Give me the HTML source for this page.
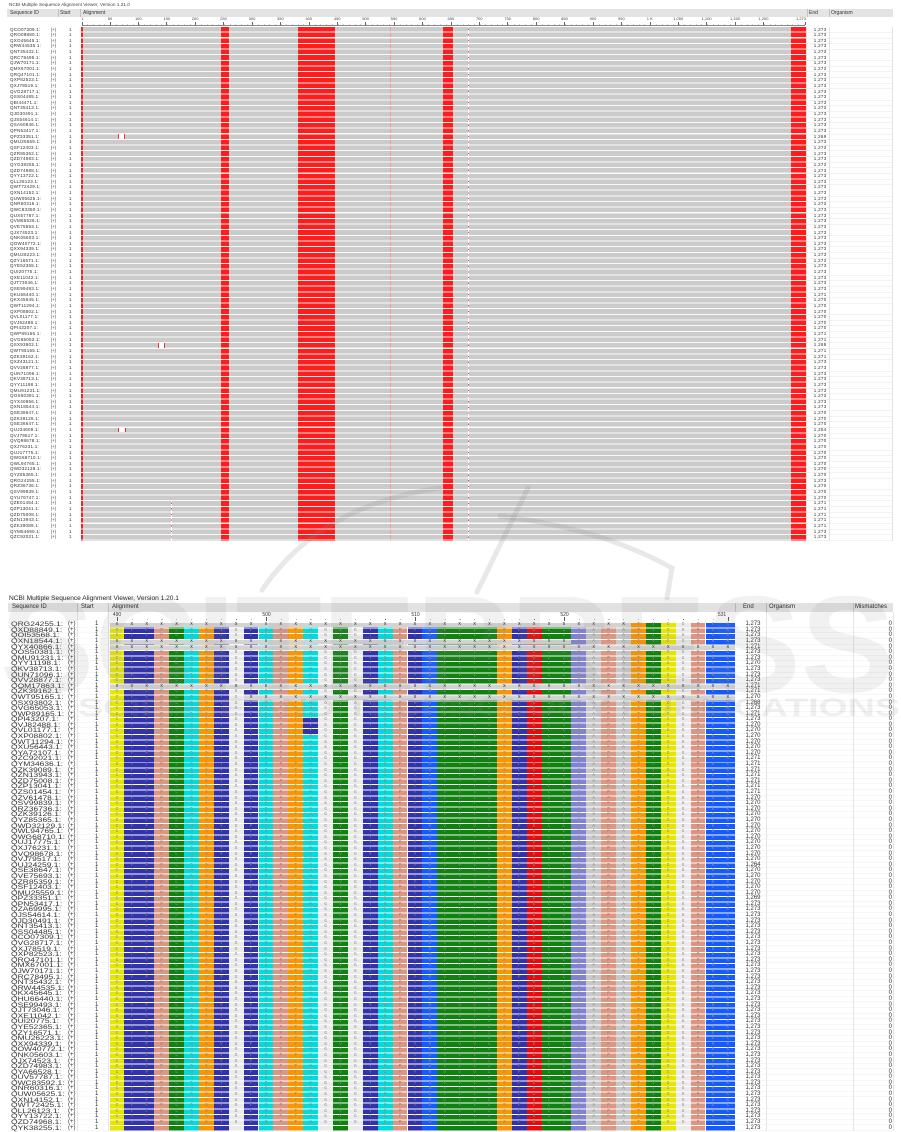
<!DOCTYPE html>
<html><head><meta charset="utf-8"><style>
*{margin:0;padding:0}
body{width:901px;height:1131px;position:relative;overflow:hidden;background:#fff;font-family:"Liberation Sans",Arial,sans-serif;color:#333}
.a{position:absolute}
.hb{position:absolute;background:#e4e4e4}
.sep{position:absolute;width:1px;background:#c2c2c2}
.rl{position:absolute;width:24px;text-align:center;font-size:4px;line-height:4px;top:17.3px;color:#444}
.mt{position:absolute;width:.6px;height:3.2px;top:21.8px;background:#666}
.tt{position:absolute;font-size:4.5px;line-height:5.645px;top:26.5px;height:514px;overflow:hidden;white-space:pre;color:#333}
.red{position:absolute;top:27px;height:513.7px;background:#ff1c1c}
.bt{position:absolute;font-size:6px;line-height:5.59px;top:622.2px;white-space:pre;color:#333}
.c{position:absolute;top:622.7px;height:508.7px}
.x{position:absolute;height:4.6px;background:#d3d3d3}
.L{position:absolute;left:115.6px;top:622.2px;font-family:"Liberation Mono",monospace;font-size:4.5px;letter-spacing:12.2px;line-height:5.59px;white-space:pre;color:#8a8a8a}
.L b{color:#222;font-weight:normal}
.bl{position:absolute;font-size:5px;line-height:5px;top:612.6px;width:24px;text-align:center;color:#333}
.bm{position:absolute;width:.7px;height:4.6px;top:616.6px;background:#555}
</style></head><body>

<!-- ================= TOP SECTION ================= -->
<div class="a" style="left:9px;top:2.7px;font-size:4.7px;line-height:4.7px;color:#444">NCBI Multiple Sequence Alignment Viewer, Version 1.21.0</div>
<div class="hb" style="left:7px;top:9.3px;width:886px;height:8px"></div>
<div class="a" style="left:10px;top:9.3px;font-size:5px;line-height:8px">Sequence ID</div>
<div class="a" style="left:60px;top:9.3px;font-size:5px;line-height:8px">Start</div>
<div class="a" style="left:83px;top:9.3px;font-size:5px;line-height:8px">Alignment</div>
<div class="a" style="left:809px;top:9.3px;font-size:5px;line-height:8px">End</div>
<div class="a" style="left:831px;top:9.3px;font-size:5px;line-height:8px">Organism</div>
<div class="sep" style="left:57.5px;top:9.3px;height:8px"></div>
<div class="sep" style="left:80px;top:9.3px;height:8px"></div>
<div class="sep" style="left:806.5px;top:9.3px;height:8px"></div>
<div class="sep" style="left:829px;top:9.3px;height:8px"></div>

<!-- ruler -->
<div class="rl" style="left:70.3px">1</div>
<div class="rl" style="left:98px">50</div>
<div class="rl" style="left:126.3px">100</div>
<div class="rl" style="left:154.7px">150</div>
<div class="rl" style="left:183.1px">200</div>
<div class="rl" style="left:211.5px">250</div>
<div class="rl" style="left:240px">300</div>
<div class="rl" style="left:268.4px">350</div>
<div class="rl" style="left:296.8px">400</div>
<div class="rl" style="left:325.2px">450</div>
<div class="rl" style="left:353.6px">500</div>
<div class="rl" style="left:382px">550</div>
<div class="rl" style="left:410.5px">600</div>
<div class="rl" style="left:438.9px">650</div>
<div class="rl" style="left:467.3px">700</div>
<div class="rl" style="left:495.7px">750</div>
<div class="rl" style="left:524.1px">800</div>
<div class="rl" style="left:552.5px">850</div>
<div class="rl" style="left:581px">900</div>
<div class="rl" style="left:609.4px">950</div>
<div class="rl" style="left:637.8px">1 K</div>
<div class="rl" style="left:666.2px">1,050</div>
<div class="rl" style="left:694.6px">1,100</div>
<div class="rl" style="left:723px">1,150</div>
<div class="rl" style="left:751.5px">1,200</div>
<div class="rl" style="left:782px;text-align:right">1,273</div>
<div class="a" style="left:81.5px;top:24.8px;width:723.5px;height:.6px;background:#888"></div>
<div class="a" style="left:81.7px;top:23.6px;width:723px;height:1.2px;background:repeating-linear-gradient(90deg,#999 0 .5px,transparent .5px 5.684px)"></div>
<div class="mt" style="left:82px"></div><div class="mt" style="left:109.7px"></div><div class="mt" style="left:138px"></div><div class="mt" style="left:166.4px"></div><div class="mt" style="left:194.8px"></div><div class="mt" style="left:223.2px"></div><div class="mt" style="left:251.7px"></div><div class="mt" style="left:280.1px"></div><div class="mt" style="left:308.5px"></div><div class="mt" style="left:336.9px"></div><div class="mt" style="left:365.3px"></div><div class="mt" style="left:393.7px"></div><div class="mt" style="left:422.2px"></div><div class="mt" style="left:450.6px"></div><div class="mt" style="left:479px"></div><div class="mt" style="left:507.4px"></div><div class="mt" style="left:535.8px"></div><div class="mt" style="left:564.2px"></div><div class="mt" style="left:592.7px"></div><div class="mt" style="left:621.1px"></div><div class="mt" style="left:649.5px"></div><div class="mt" style="left:677.9px"></div><div class="mt" style="left:706.3px"></div><div class="mt" style="left:734.7px"></div><div class="mt" style="left:763.2px"></div><div class="mt" style="left:804.6px"></div>

<!-- top alignment -->
<div class="a" style="left:81px;top:27px;width:725px;height:513.7px;background:#cbcbcb"></div>
<div class="red" style="left:81.3px;width:1.9px"></div>
<div class="red" style="left:220.7px;width:8.3px"></div>
<div class="red" style="left:298.3px;width:36.4px"></div>
<div class="red" style="left:443.3px;width:9.4px"></div>
<div class="red" style="left:790.7px;width:15.3px"></div>
<div class="a" style="left:390.4px;top:27px;width:.8px;height:513.7px;background:#f29a9a"></div>
<div class="a" style="left:156.8px;top:27px;width:.8px;height:513.7px;background:repeating-linear-gradient(180deg,transparent 0 1.6px,#f0b8b8 1.6px 2.8px,transparent 2.8px 5.645px)"></div>
<div class="a" style="left:467.8px;top:27px;width:1.3px;height:513.7px;background:repeating-linear-gradient(180deg,#fff 0 1.6px,#e84a4a 1.6px 2.8px,#fff 2.8px 5.645px)"></div>
<div class="a" style="left:170.8px;top:501.2px;width:.9px;height:39.5px;background:repeating-linear-gradient(180deg,#fff 0 1.6px,#e84a4a 1.6px 2.8px,#fff 2.8px 5.645px)"></div>
<div class="a" style="left:81px;top:27px;width:725px;height:513.7px;background:repeating-linear-gradient(180deg,transparent 0 4.6px,rgba(255,255,255,.9) 4.6px 5.645px)"></div>
<div class="a" style="left:118px;top:134.3px;width:7px;height:4.6px;background:#fff;border-left:1px solid #e33;border-right:1px solid #e33;box-sizing:border-box"></div>
<div class="a" style="left:158px;top:343.1px;width:7px;height:4.6px;background:#fff;border-left:1px solid #e33;border-right:1px solid #e33;box-sizing:border-box"></div>
<div class="a" style="left:118px;top:427.8px;width:8px;height:4.6px;background:#fff;border-left:1px solid #e33;border-right:1px solid #e33;box-sizing:border-box"></div>

<!-- top end / organism grid -->
<div class="a" style="left:806px;top:27px;width:87px;height:513.7px;border-left:1px solid #e2e2e2;border-right:1px solid #e2e2e2;box-sizing:border-box;background:repeating-linear-gradient(180deg,transparent 0 5.2px,#e6e6e6 5.2px 5.645px)"></div>
<div class="a" style="left:829px;top:27px;width:1px;height:513.7px;background:#e2e2e2"></div>

<div class="tt" style="left:10px;letter-spacing:.25px">QCO07309.1:
QRO08880.1:
QXO45645.1:
QRW44535.1:
QNT35432.1:
QRC78495.1:
QJW70171.1:
QMX67001.1:
QRQ47101.1:
QXP82523.1:
QXJ78519.1:
QVG28717.1:
QSS04485.1:
QBI44471.1:
QNT35413.1:
QJD30491.1:
QJS54614.1:
QSA60846.1:
QPN53417.1:
QPZ33351.1:
QMU25559.1:
QSF12403.1:
QZR85362.1:
QZD74983.1:
QYG38255.1:
QZD74988.1:
QYY13722.1:
QLL26123.1:
QWT72429.1:
QXN14152.1:
QUW05625.1:
QNR60316.1:
QWC83350.1:
QUX57787.1:
QVM65528.1:
QVE75693.1:
QJX74523.1:
QNK05603.1:
QOW40772.1:
QXX94339.1:
QMU26223.1:
QZY16571.1:
QYE52365.1:
QUI20775.1:
QXE11042.1:
QJT73046.1:
QSE99493.1:
QKU66440.1:
QKX45645.1:
QWT11294.1:
QXP08802.1:
QVL01177.1:
QVJ62488.1:
QPI43207.1:
QWP89165.1:
QVG65053.1:
QSX93802.1:
QWT95165.1:
QZK39162.1:
QXZ43121.1:
QVV28877.1:
QUN71096.1:
QKV38713.1:
QYY11198.1:
QMU91231.1:
QOS50381.1:
QYX40866.1:
QXN18544.1:
QSE38647.1:
QZK39126.1:
QSE36647.1:
QUJ34609.1:
QVJ79517.1:
QVQ98678.1:
QXJ76231.1:
QUJ17775.1:
QWG68710.1:
QWL94765.1:
QWD32129.1:
QYZ85365.1:
QRG24255.1:
QRZ36736.1:
QSV99839.1:
QYU76747.1:
QZE01454.1:
QZP13041.1:
QZD75008.1:
QZN13943.1:
QZK39089.1:
QYM54690.1:
QZC92021.1:</div>
<div class="tt" style="left:50.7px;font-size:4.3px">(+)
(+)
(+)
(+)
(+)
(+)
(+)
(+)
(+)
(+)
(+)
(+)
(+)
(+)
(+)
(+)
(+)
(+)
(+)
(+)
(+)
(+)
(+)
(+)
(+)
(+)
(+)
(+)
(+)
(+)
(+)
(+)
(+)
(+)
(+)
(+)
(+)
(+)
(+)
(+)
(+)
(+)
(+)
(+)
(+)
(+)
(+)
(+)
(+)
(+)
(+)
(+)
(+)
(+)
(+)
(+)
(+)
(+)
(+)
(+)
(+)
(+)
(+)
(+)
(+)
(+)
(+)
(+)
(+)
(+)
(+)
(+)
(+)
(+)
(+)
(+)
(+)
(+)
(+)
(+)
(+)
(+)
(+)
(+)
(+)
(+)
(+)
(+)
(+)
(+)
(+)</div>
<div class="tt" style="left:69px">1
1
1
1
1
1
1
1
1
1
1
1
1
1
1
1
1
1
1
1
1
1
1
1
1
1
1
1
1
1
1
1
1
1
1
1
1
1
1
1
1
1
1
1
1
1
1
1
1
1
1
1
1
1
1
1
1
1
1
1
1
1
1
1
1
1
1
1
1
1
1
1
1
1
1
1
1
1
1
1
1
1
1
1
1
1
1
1
1
1
1</div>
<div class="tt" style="left:800px;width:26.5px;text-align:right;letter-spacing:.3px">1,273
1,273
1,273
1,273
1,273
1,273
1,273
1,273
1,273
1,273
1,273
1,273
1,273
1,273
1,273
1,273
1,273
1,273
1,273
1,269
1,273
1,273
1,273
1,273
1,273
1,273
1,273
1,273
1,273
1,273
1,273
1,273
1,273
1,273
1,273
1,273
1,273
1,273
1,273
1,273
1,273
1,273
1,273
1,273
1,273
1,273
1,273
1,271
1,270
1,270
1,270
1,270
1,270
1,270
1,271
1,271
1,268
1,271
1,271
1,273
1,273
1,273
1,273
1,273
1,273
1,273
1,273
1,273
1,270
1,270
1,270
1,264
1,270
1,270
1,270
1,270
1,270
1,270
1,270
1,270
1,273
1,270
1,270
1,270
1,271
1,271
1,271
1,271
1,271
1,273
1,273</div>

<!-- ================= BOTTOM SECTION ================= -->
<div class="a" style="left:9px;top:595.8px;font-size:6.6px;line-height:6.6px;color:#222">NCBI Multiple Sequence Alignment Viewer, Version 1.20.1</div>
<div class="hb" style="left:8px;top:603.3px;width:885px;height:8.4px;background:#e2e2e2"></div>
<div class="a" style="left:12px;top:603.3px;font-size:6px;line-height:8.4px;color:#222">Sequence ID</div>
<div class="a" style="left:81px;top:603.3px;font-size:6px;line-height:8.4px;color:#222">Start</div>
<div class="a" style="left:112px;top:603.3px;font-size:6px;line-height:8.4px;color:#222">Alignment</div>
<div class="a" style="left:743px;top:603.3px;font-size:6px;line-height:8.4px;color:#222">End</div>
<div class="a" style="left:769px;top:603.3px;font-size:6px;line-height:8.4px;color:#222">Organism</div>
<div class="a" style="left:855px;top:603.3px;font-size:6px;line-height:8.4px;color:#222">Mismatches</div>
<div class="sep" style="left:77.3px;top:603.3px;height:8.4px;background:#bdbdbd"></div>
<div class="sep" style="left:108.3px;top:603.3px;height:8.4px;background:#bdbdbd"></div>
<div class="sep" style="left:735px;top:603.3px;height:8.4px;background:#bdbdbd"></div>
<div class="sep" style="left:766px;top:603.3px;height:8.4px;background:#bdbdbd"></div>
<div class="sep" style="left:853px;top:603.3px;height:8.4px;background:#bdbdbd"></div>

<!-- bottom ruler -->
<div class="bl" style="left:105px">490</div>
<div class="bl" style="left:254.5px">500</div>
<div class="bl" style="left:403.5px">510</div>
<div class="bl" style="left:552.5px">520</div>
<div class="bl" style="left:710px">531</div>
<div class="bm" style="left:116.7px"></div>
<div class="bm" style="left:266.2px"></div>
<div class="bm" style="left:415.2px"></div>
<div class="bm" style="left:564.2px"></div>
<div class="bm" style="left:727.5px"></div>
<div class="a" style="left:116.7px;top:619.3px;width:620px;height:1.2px;background:repeating-linear-gradient(90deg,#666 0 .6px,transparent .6px 14.9px)"></div>

<!-- column backgrounds -->
<div class="c" style="left:109.5px;width:14.9px;background:#e6e600"></div>
<div class="c" style="left:124.4px;width:29.8px;background:#3232aa"></div>
<div class="c" style="left:154.2px;width:14.9px;background:#dc9682"></div>
<div class="c" style="left:169.1px;width:14.9px;background:#0f820f"></div>
<div class="c" style="left:184px;width:14.9px;background:#00dcdc"></div>
<div class="c" style="left:198.9px;width:14.9px;background:#fa9600"></div>
<div class="c" style="left:213.8px;width:14.9px;background:#3232aa"></div>
<div class="c" style="left:228.7px;width:14.9px;background:#ebebeb"></div>
<div class="c" style="left:243.6px;width:14.9px;background:#3232aa"></div>
<div class="c" style="left:258.5px;width:14.9px;background:#00dcdc"></div>
<div class="c" style="left:273.4px;width:14.9px;background:#dc9682"></div>
<div class="c" style="left:288.3px;width:14.9px;background:#fa9600"></div>
<div class="c" style="left:303.2px;width:14.9px;background:#00dcdc"></div>
<div class="c" style="left:318.1px;width:14.9px;background:#ebebeb"></div>
<div class="c" style="left:333px;width:14.9px;background:#0f820f"></div>
<div class="c" style="left:347.9px;width:14.9px;background:#ebebeb"></div>
<div class="c" style="left:362.8px;width:14.9px;background:#3232aa"></div>
<div class="c" style="left:377.7px;width:14.9px;background:#00dcdc"></div>
<div class="c" style="left:392.6px;width:14.9px;background:#dc9682"></div>
<div class="c" style="left:407.5px;width:14.9px;background:#3232aa"></div>
<div class="c" style="left:422.4px;width:14.9px;background:#145aff"></div>
<div class="c" style="left:437.3px;width:59.6px;background:#0f820f"></div>
<div class="c" style="left:496.9px;width:14.9px;background:#fa9600"></div>
<div class="c" style="left:511.8px;width:14.9px;background:#3232aa"></div>
<div class="c" style="left:526.7px;width:14.9px;background:#e60a0a"></div>
<div class="c" style="left:541.6px;width:29.8px;background:#0f820f"></div>
<div class="c" style="left:571.4px;width:14.9px;background:#8282d2"></div>
<div class="c" style="left:586.3px;width:14.9px;background:#c8c8c8"></div>
<div class="c" style="left:601.2px;width:14.9px;background:#dc9682"></div>
<div class="c" style="left:616.1px;width:14.9px;background:#c8c8c8"></div>
<div class="c" style="left:631px;width:14.9px;background:#fa9600"></div>
<div class="c" style="left:645.9px;width:14.9px;background:#0f820f"></div>
<div class="c" style="left:660.8px;width:14.9px;background:#e6e600"></div>
<div class="c" style="left:675.7px;width:14.9px;background:#ebebeb"></div>
<div class="c" style="left:690.6px;width:14.9px;background:#dc9682"></div>
<div class="c" style="left:705.5px;width:29.8px;background:#145aff"></div>

<!-- variant overlays -->
<div class="x" style="left:109.5px;top:622.7px;width:521.5px"></div>
<div class="x" style="left:109.5px;top:639.47px;width:461.9px"></div>
<div class="x" style="left:109.5px;top:645.06px;width:625.8px"></div>
<div class="x" style="left:109.5px;top:684.19px;width:625.8px"></div>
<div class="x" style="left:243.6px;top:695.37px;width:491.7px"></div>
<div class="a" style="left:303.2px;top:717.7px;width:14.9px;height:16.8px;background:#3232aa"></div>

<!-- row gaps -->
<div class="a" style="left:109.5px;top:622.7px;width:625.8px;height:508.7px;background:repeating-linear-gradient(180deg,transparent 0 4.6px,#fff 4.6px 5.59px)"></div>

<!-- residue letters -->
<div class="L"><b>XXXXXXXXXXXXXXXXXXXXXXXXXXXXXXXXXXX</b>TVCGPKK
CYFPLQSYGFQPTNGVGYQPYRVVVLSFELLHAPATVCGPKK
CYFPLQSYGFQPTNGVGYQPYRVVVLSFELLHAPATVCGPKK
<b>XXXXXXXXXXXXXXXXXXXXXXXXXXXXXXX</b>HAPATVCGPKK
<b>XXXXXXXXXXXXXXXXXXXXXXXXXXXXXXXXXXXXXXXXXX</b>
CYFPLQSYGFQPTNGVGYQPYRVVVLSFELLHAPATVCGPKK
CYFPLQSYGFQPTNGVGYQPYRVVVLSFELLHAPATVCGPKK
CYFPLQSYGFQPTNGVGYQPYRVVVLSFELLHAPATVCGPKK
CYFPLQSYGFQPTNGVGYQPYRVVVLSFELLHAPATVCGPKK
CYFPLQSYGFQPTNGVGYQPYRVVVLSFELLHAPATVCGPKK
CYFPLQSYGFQPTNGVGYQPYRVVVLSFELLHAPATVCGPKK
<b>XXXXXXXXXXXXXXXXXXXXXXXXXXXXXXXXXXXXXXXXXX</b>
CYFPLQSYGFQPTNGVGYQPYRVVVLSFELLHAPATVCGPKK
CYFPLQSYG<b>XXXXXXXXXXXXXXXXXXXXXXXXXXXXXXXXX</b>
CYFPLQSYGFQPTNGVGYQPYRVVVLSFELLHAPATVCGPKK
CYFPLQSYGFQPTNGVGYQPYRVVVLSFELLHAPATVCGPKK
CYFPLQSYGFQPTNGVGYQPYRVVVLSFELLHAPATVCGPKK
CYFPLQSYGFQPTYGVGYQPYRVVVLSFELLHAPATVCGPKK
CYFPLQSYGFQPTYGVGYQPYRVVVLSFELLHAPATVCGPKK
CYFPLQSYGFQPTYGVGYQPYRVVVLSFELLHAPATVCGPKK
CYFPLQSYGFQPTNGVGYQPYRVVVLSFELLHAPATVCGPKK
CYFPLQSYGFQPTNGVGYQPYRVVVLSFELLHAPATVCGPKK
CYFPLQSYGFQPTNGVGYQPYRVVVLSFELLHAPATVCGPKK
CYFPLQSYGFQPTNGVGYQPYRVVVLSFELLHAPATVCGPKK
CYFPLQSYGFQPTNGVGYQPYRVVVLSFELLHAPATVCGPKK
CYFPLQSYGFQPTNGVGYQPYRVVVLSFELLHAPATVCGPKK
CYFPLQSYGFQPTNGVGYQPYRVVVLSFELLHAPATVCGPKK
CYFPLQSYGFQPTNGVGYQPYRVVVLSFELLHAPATVCGPKK
CYFPLQSYGFQPTNGVGYQPYRVVVLSFELLHAPATVCGPKK
CYFPLQSYGFQPTNGVGYQPYRVVVLSFELLHAPATVCGPKK
CYFPLQSYGFQPTNGVGYQPYRVVVLSFELLHAPATVCGPKK
CYFPLQSYGFQPTNGVGYQPYRVVVLSFELLHAPATVCGPKK
CYFPLQSYGFQPTNGVGYQPYRVVVLSFELLHAPATVCGPKK
CYFPLQSYGFQPTNGVGYQPYRVVVLSFELLHAPATVCGPKK
CYFPLQSYGFQPTNGVGYQPYRVVVLSFELLHAPATVCGPKK
CYFPLQSYGFQPTNGVGYQPYRVVVLSFELLHAPATVCGPKK
CYFPLQSYGFQPTNGVGYQPYRVVVLSFELLHAPATVCGPKK
CYFPLQSYGFQPTNGVGYQPYRVVVLSFELLHAPATVCGPKK
CYFPLQSYGFQPTNGVGYQPYRVVVLSFELLHAPATVCGPKK
CYFPLQSYGFQPTNGVGYQPYRVVVLSFELLHAPATVCGPKK
CYFPLQSYGFQPTNGVGYQPYRVVVLSFELLHAPATVCGPKK
CYFPLQSYGFQPTNGVGYQPYRVVVLSFELLHAPATVCGPKK
CYFPLQSYGFQPTNGVGYQPYRVVVLSFELLHAPATVCGPKK
CYFPLQSYGFQPTNGVGYQPYRVVVLSFELLHAPATVCGPKK
CYFPLQSYGFQPTNGVGYQPYRVVVLSFELLHAPATVCGPKK
CYFPLQSYGFQPTNGVGYQPYRVVVLSFELLHAPATVCGPKK
CYFPLQSYGFQPTNGVGYQPYRVVVLSFELLHAPATVCGPKK
CYFPLQSYGFQPTNGVGYQPYRVVVLSFELLHAPATVCGPKK
CYFPLQSYGFQPTNGVGYQPYRVVVLSFELLHAPATVCGPKK
CYFPLQSYGFQPTNGVGYQPYRVVVLSFELLHAPATVCGPKK
CYFPLQSYGFQPTNGVGYQPYRVVVLSFELLHAPATVCGPKK
CYFPLQSYGFQPTNGVGYQPYRVVVLSFELLHAPATVCGPKK
CYFPLQSYGFQPTNGVGYQPYRVVVLSFELLHAPATVCGPKK
CYFPLQSYGFQPTNGVGYQPYRVVVLSFELLHAPATVCGPKK
CYFPLQSYGFQPTNGVGYQPYRVVVLSFELLHAPATVCGPKK
CYFPLQSYGFQPTNGVGYQPYRVVVLSFELLHAPATVCGPKK
CYFPLQSYGFQPTNGVGYQPYRVVVLSFELLHAPATVCGPKK
CYFPLQSYGFQPTNGVGYQPYRVVVLSFELLHAPATVCGPKK
CYFPLQSYGFQPTNGVGYQPYRVVVLSFELLHAPATVCGPKK
CYFPLQSYGFQPTNGVGYQPYRVVVLSFELLHAPATVCGPKK
CYFPLQSYGFQPTNGVGYQPYRVVVLSFELLHAPATVCGPKK
CYFPLQSYGFQPTNGVGYQPYRVVVLSFELLHAPATVCGPKK
CYFPLQSYGFQPTNGVGYQPYRVVVLSFELLHAPATVCGPKK
CYFPLQSYGFQPTNGVGYQPYRVVVLSFELLHAPATVCGPKK
CYFPLQSYGFQPTNGVGYQPYRVVVLSFELLHAPATVCGPKK
CYFPLQSYGFQPTNGVGYQPYRVVVLSFELLHAPATVCGPKK
CYFPLQSYGFQPTNGVGYQPYRVVVLSFELLHAPATVCGPKK
CYFPLQSYGFQPTNGVGYQPYRVVVLSFELLHAPATVCGPKK
CYFPLQSYGFQPTNGVGYQPYRVVVLSFELLHAPATVCGPKK
CYFPLQSYGFQPTNGVGYQPYRVVVLSFELLHAPATVCGPKK
CYFPLQSYGFQPTNGVGYQPYRVVVLSFELLHAPATVCGPKK
CYFPLQSYGFQPTNGVGYQPYRVVVLSFELLHAPATVCGPKK
CYFPLQSYGFQPTNGVGYQPYRVVVLSFELLHAPATVCGPKK
CYFPLQSYGFQPTNGVGYQPYRVVVLSFELLHAPATVCGPKK
CYFPLQSYGFQPTNGVGYQPYRVVVLSFELLHAPATVCGPKK
CYFPLQSYGFQPTNGVGYQPYRVVVLSFELLHAPATVCGPKK
CYFPLQSYGFQPTNGVGYQPYRVVVLSFELLHAPATVCGPKK
CYFPLQSYGFQPTNGVGYQPYRVVVLSFELLHAPATVCGPKK
CYFPLQSYGFQPTNGVGYQPYRVVVLSFELLHAPATVCGPKK
CYFPLQSYGFQPTNGVGYQPYRVVVLSFELLHAPATVCGPKK
CYFPLQSYGFQPTNGVGYQPYRVVVLSFELLHAPATVCGPKK
CYFPLQSYGFQPTNGVGYQPYRVVVLSFELLHAPATVCGPKK
CYFPLQSYGFQPTNGVGYQPYRVVVLSFELLHAPATVCGPKK
CYFPLQSYGFQPTNGVGYQPYRVVVLSFELLHAPATVCGPKK
CYFPLQSYGFQPTNGVGYQPYRVVVLSFELLHAPATVCGPKK
CYFPLQSYGFQPTNGVGYQPYRVVVLSFELLHAPATVCGPKK
CYFPLQSYGFQPTNGVGYQPYRVVVLSFELLHAPATVCGPKK
CYFPLQSYGFQPTNGVGYQPYRVVVLSFELLHAPATVCGPKK
CYFPLQSYGFQPTNGVGYQPYRVVVLSFELLHAPATVCGPKK
CYFPLQSYGFQPTNGVGYQPYRVVVLSFELLHAPATVCGPKK</div>

<!-- bottom left grid -->
<div class="a" style="left:8px;top:622.2px;width:100px;height:508.8px;background:repeating-linear-gradient(180deg,transparent 0 5.1px,#f1f1f1 5.1px 5.59px)"></div>
<div class="a" style="left:77.3px;top:612px;width:1px;height:519px;background:#e6e6e6"></div>
<div class="a" style="left:108.3px;top:612px;width:1px;height:519px;background:#e6e6e6"></div>
<!-- bottom right grid -->
<div class="a" style="left:735.3px;top:622.2px;width:158px;height:508.8px;background:repeating-linear-gradient(180deg,transparent 0 5.1px,#ececec 5.1px 5.59px)"></div>
<div class="a" style="left:766px;top:612px;width:1px;height:519px;background:#e4e4e4"></div>
<div class="a" style="left:853px;top:612px;width:1px;height:519px;background:#e4e4e4"></div>
<div class="a" style="left:892.5px;top:612px;width:1px;height:519px;background:#e4e4e4"></div>

<div class="bt" style="left:11px;font-size:6.5px;transform:scaleX(1.3);transform-origin:0 0">QRG24255.1:
QXD88849.1:
QOI53568.1:
QXN18544.1:
QYX40866.1:
QOS50381.1:
QMU91231.1:
QYY11198.1:
QKV38713.1:
QUN71096.1:
QVV28877.1:
QOM17863.1:
QZK39162.1:
QWT95165.1:
QSX93802.1:
QVG65053.1:
QWP89165.1:
QPI43207.1:
QVJ82488.1:
QVL01177.1:
QXP08802.1:
QWT11294.1:
QXU56443.1:
QYA72107.1:
QZC92021.1:
QYM34636.1:
QZK39089.1:
QZN13943.1:
QZD75008.1:
QZP13041.1:
QZS01454.1:
QZV61478.1:
QSV99839.1:
QRZ36736.1:
QZK39126.1:
QYZ85365.1:
QWD32129.1:
QWL94765.1:
QWG68710.1:
QUJ17775.1:
QXJ76231.1:
QVQ98678.1:
QVJ79517.1:
QUJ24259.1:
QSE38647.1:
QVE75693.1:
QZR85359.1:
QSF12403.1:
QMU25559.1:
QPZ33351.1:
QPN53417.1:
QZA69995.1:
QJS54614.1:
QJD30491.1:
QNT35413.1:
QSS04485.1:
QCO07309.1:
QVG28717.1:
QXJ78519.1:
QXP82523.1:
QRQ47101.1:
QMX67001.1:
QJW70171.1:
QRC78495.1:
QNT35432.1:
QRW44535.1:
QKX45645.1:
QHU66440.1:
QSE99493.1:
QJT73046.1:
QXE11042.1:
QUI20775.1:
QYE52365.1:
QZY16571.1:
QMU26223.1:
QXX94339.1:
QOW40772.1:
QNK05603.1:
QJX74523.1:
QZD74983.1:
QYA66528.1:
QUV57787.1:
QWC83592.1:
QNR60316.1:
QUW05625.1:
QXN14152.1:
QWT72425.1:
QLL26123.1:
QYY13722.1:
QZD74968.1:
QYK38255.1:</div>
<div class="bt" style="left:68px">(+)
(+)
(+)
(+)
(+)
(+)
(+)
(+)
(+)
(+)
(+)
(+)
(+)
(+)
(+)
(+)
(+)
(+)
(+)
(+)
(+)
(+)
(+)
(+)
(+)
(+)
(+)
(+)
(+)
(+)
(+)
(+)
(+)
(+)
(+)
(+)
(+)
(+)
(+)
(+)
(+)
(+)
(+)
(+)
(+)
(+)
(+)
(+)
(+)
(+)
(+)
(+)
(+)
(+)
(+)
(+)
(+)
(+)
(+)
(+)
(+)
(+)
(+)
(+)
(+)
(+)
(+)
(+)
(+)
(+)
(+)
(+)
(+)
(+)
(+)
(+)
(+)
(+)
(+)
(+)
(+)
(+)
(+)
(+)
(+)
(+)
(+)
(+)
(+)
(+)
(+)</div>
<div class="bt" style="left:95px">1
1
1
1
1
1
1
1
1
1
1
1
1
1
1
1
1
1
1
1
1
1
1
1
1
1
1
1
1
1
1
1
1
1
1
1
1
1
1
1
1
1
1
1
1
1
1
1
1
1
1
1
1
1
1
1
1
1
1
1
1
1
1
1
1
1
1
1
1
1
1
1
1
1
1
1
1
1
1
1
1
1
1
1
1
1
1
1
1
1
1</div>
<div class="bt" style="left:730px;width:30.5px;text-align:right">1,273
1,273
1,273
1,273
1,271
1,273
1,273
1,270
1,273
1,273
1,273
1,271
1,271
1,270
1,268
1,273
1,271
1,273
1,270
1,270
1,270
1,270
1,270
1,270
1,271
1,271
1,271
1,271
1,271
1,271
1,271
1,270
1,270
1,270
1,270
1,270
1,270
1,270
1,270
1,270
1,270
1,270
1,270
1,264
1,270
1,270
1,270
1,270
1,270
1,269
1,273
1,273
1,273
1,273
1,273
1,273
1,273
1,273
1,273
1,273
1,273
1,273
1,273
1,273
1,273
1,273
1,273
1,273
1,273
1,273
1,273
1,273
1,273
1,273
1,273
1,273
1,273
1,273
1,273
1,273
1,273
1,273
1,273
1,273
1,273
1,273
1,273
1,273
1,273
1,273
1,273</div>
<div class="bt" style="left:862px;width:30px;text-align:right">0
0
0
0
0
0
0
0
0
0
0
0
0
0
0
0
0
0
0
0
0
0
0
0
0
0
0
0
0
0
0
0
0
0
0
0
0
0
0
0
0
0
0
0
0
0
0
0
0
0
0
0
0
0
0
0
0
0
0
0
0
0
0
0
0
0
0
0
0
0
0
0
0
0
0
0
0
0
0
0
0
0
0
0
0
0
0
0
0
0
0</div>

<!-- watermark -->
<svg class="a" style="left:0;top:0" width="901" height="1131" viewBox="0 0 901 1131">
<g fill="none" stroke="#8c8c8c" stroke-opacity=".2" stroke-width="5" stroke-linecap="round">
<path d="M262,590 Q320,505 440,488"/>
<path d="M477,592 L528,488"/>
<path d="M500,516 Q600,528 672,568 L667,598"/>
</g>
<text x="0" y="692" font-family="Liberation Sans, sans-serif" font-weight="bold" font-size="138" fill="#8c8c8c" fill-opacity=".12" textLength="895" lengthAdjust="spacingAndGlyphs">SCITEPRESS</text>
<text x="78" y="716" font-family="Liberation Sans, sans-serif" font-weight="bold" font-size="25" fill="#8c8c8c" fill-opacity=".14" textLength="822" lengthAdjust="spacingAndGlyphs">SCIENCE AND TECHNOLOGY PUBLICATIONS</text>
</svg>
</body></html>
